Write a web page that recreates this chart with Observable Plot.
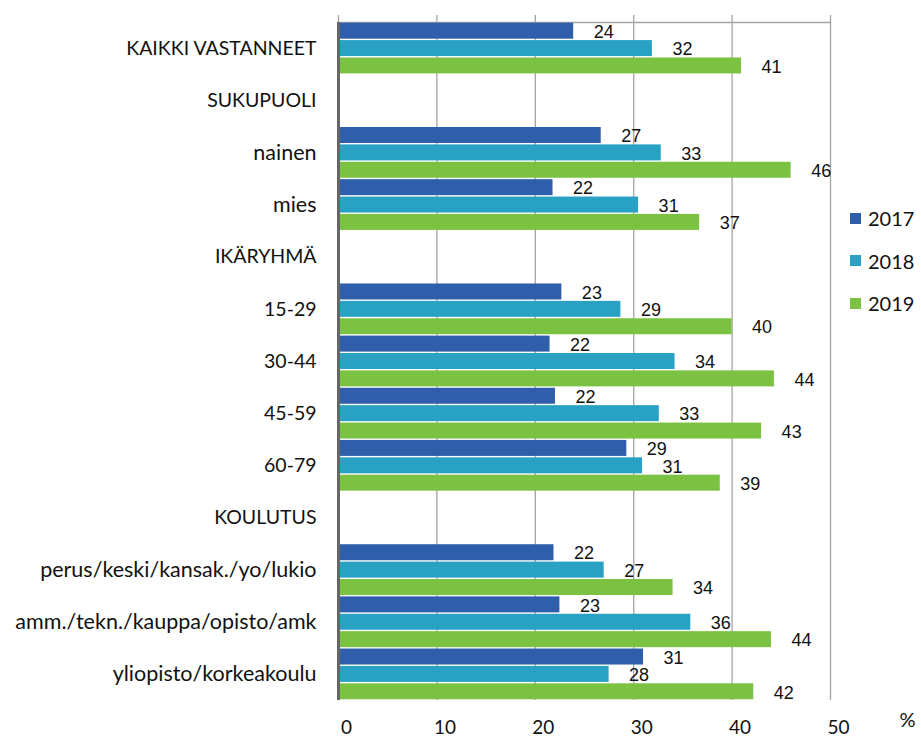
<!DOCTYPE html>
<html>
<head>
<meta charset="utf-8">
<script src="https://cdn.jsdelivr.net/npm/d3@7"></script>
<script src="https://cdn.jsdelivr.net/npm/@observablehq/plot@0.6"></script>
<style>
  html, body { margin: 0; padding: 0; background: #fff; }
  #wrap { position: relative; width: 921px; height: 738px; }
  #legend { position: absolute; left: 850px; top: 197px; font-family: Lato, sans-serif; font-size: 20px; color: #111; }
  .item { display: flex; align-items: center; height: 42.5px; }
  .sw { width: 11px; height: 11px; margin-right: 7px; }
</style>
</head>
<body>
<div id="wrap"><div id="legend"></div></div>
<script>
const categories = [
  "KAIKKI VASTANNEET", "SUKUPUOLI", "nainen", "mies", "IKÄRYHMÄ",
  "15-29", "30-44", "45-59", "60-79", "KOULUTUS",
  "perus/keski/kansak./yo/lukio", "amm./tekn./kauppa/opisto/amk", "yliopisto/korkeakoulu"
];
const years = ["2017", "2018", "2019"];
const colors = ["#2f5faa", "#29a1c3", "#7cc242"];
const v2017 = [23.9, null, 26.7, 21.8, null, 22.7, 21.5, 22.05, 29.3, null, 21.9, 22.5, 31.0];
const v2018 = [31.9, null, 32.8, 30.5, null, 28.7, 34.2, 32.6, 30.9, null, 27.0, 35.8, 27.5];
const v2019 = [40.96, null, 46.0, 36.7, null, 40.0, 44.3, 43.0, 38.8, null, 34.0, 44.0, 42.2];
const xTicks = [0, 10, 20, 30, 40, 50];

const series = [v2017, v2018, v2019];
const rows = [];
categories.forEach((c, i) => {
  years.forEach((y, j) => {
    const v = series[j][i];
    if (v != null) rows.push({category: c, year: y, key: c + "|" + y, value: v});
  });
});
const yDomain = categories.flatMap(c => years.map(y => c + "|" + y));
const catLabels = categories.map(c => ({category: c, key: c + "|" + years[1]}));

const chart = Plot.plot({
  width: 921,
  height: 738,
  marginLeft: 338,
  marginRight: 91,
  marginTop: 22,
  marginBottom: 38,
  style: {fontFamily: "Lato, sans-serif", background: "white", color: "#111", overflow: "visible"},
  x: {domain: [0, 50], axis: null},
  y: {domain: yDomain, type: "band", paddingInner: 0.08, paddingOuter: 0.04, round: false, axis: null},
  color: {domain: years, range: colors},
  marks: [
    Plot.gridX(xTicks.slice(1), {stroke: "#a3a3a3", strokeOpacity: 1, strokeWidth: 1.3}),
    Plot.frame({anchor: "top", stroke: "#a3a3a3", strokeWidth: 1.3}),
    Plot.axisX(xTicks, {anchor: "top", tickSize: 8, tickFormat: () => "", stroke: "#a3a3a3", strokeWidth: 1.3, label: null}),
    Plot.barX(rows, {x: "value", y: "key", fill: "year"}),
    Plot.ruleX([0], {stroke: "#666", strokeWidth: 3}),
    Plot.text(rows, {x: "value", y: "key", text: d => String(Math.round(d.value)), textAnchor: "start", dx: 20, dy: 1,
      fontSize: 18, fontFamily: "Liberation Sans, Arial, sans-serif", fill: "#111"}),
    Plot.text(catLabels, {x: () => 0, y: "key", text: "category", textAnchor: "end", dx: -22,
      fontSize: d => /[a-z]/.test(d.category) ? 21.5 : 19.5, fill: "#111"}),
    Plot.axisX(xTicks, {anchor: "bottom", tickSize: 0, tickPadding: 20, dx: 8, fontSize: 19, label: null}),
    Plot.text(["%"], {frameAnchor: "bottom-right", dx: 85, dy: 26, fontSize: 20, fill: "#111"})
  ]
});
document.getElementById("wrap").prepend(chart);

const legend = document.getElementById("legend");
years.forEach((y, i) => {
  const it = document.createElement("div");
  it.className = "item";
  const sw = document.createElement("span");
  sw.className = "sw";
  sw.style.background = colors[i];
  const t = document.createElement("span");
  t.textContent = y;
  it.append(sw, t);
  legend.append(it);
});
</script>
</body>
</html>
